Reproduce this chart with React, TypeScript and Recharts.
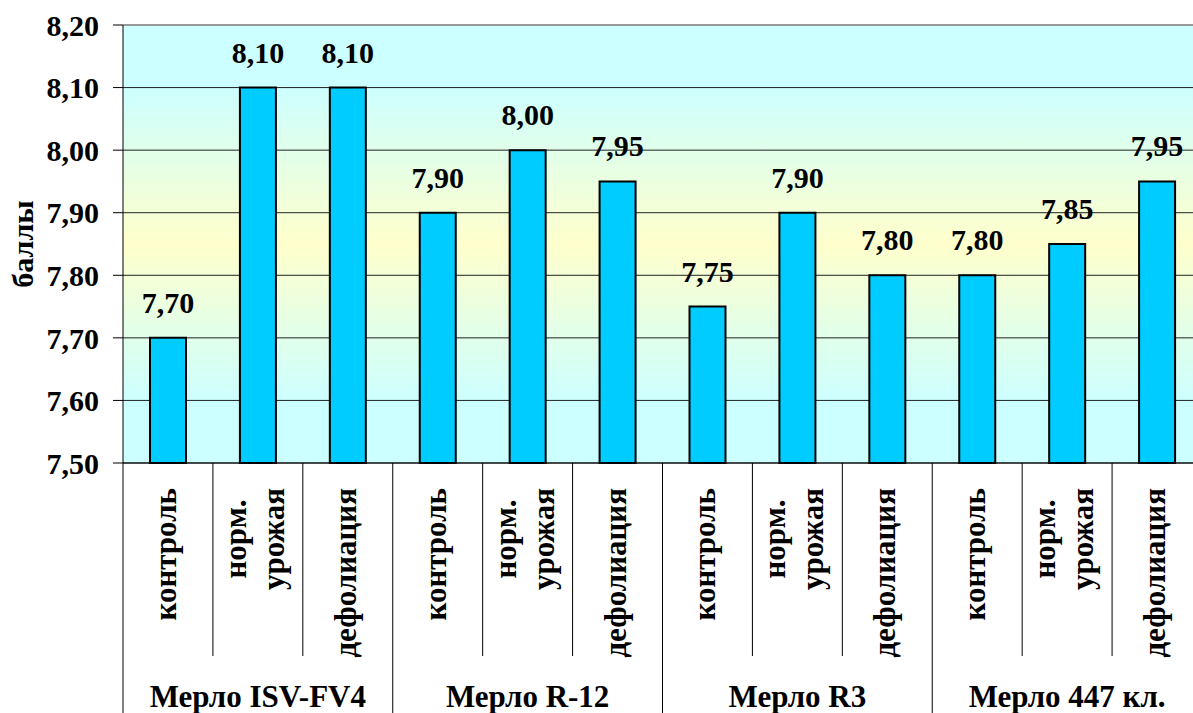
import { BarChart, Bar, XAxis, YAxis, CartesianGrid, ReferenceLine, LabelList, Label } from 'recharts';

// sorts and treatments, in drawing order
const varieties = ['Мерло ISV-FV4', 'Мерло R-12', 'Мерло R3', 'Мерло 447 кл.'];
const treatments = [['контроль'], ['норм.', 'урожая'], ['дефолиация']];
// tasting score for each sort x treatment pair
const scores = [7.70, 8.10, 8.10, 7.90, 8.00, 7.95, 7.75, 7.90, 7.80, 7.80, 7.85, 7.95];
const yTicks = [7.5, 7.6, 7.7, 7.8, 7.9, 8.0, 8.1, 8.2];

const data = scores.map((score, i) => ({
    key: `${varieties[Math.floor(i / treatments.length)]}|${i % treatments.length}`,
    group: varieties[Math.floor(i / treatments.length)],
    lines: treatments[i % treatments.length],
    score,
}));

const FONT = 'Liberation Serif, DejaVu Serif, Times New Roman, serif';
const BAR_COLOR = '#00CCFF';
const fmt = (v: number) => v.toFixed(2).replace('.', ',');

function CategoryTick(props: any) {
    const { x, y, payload, index } = props;
    const half = payload?.offset ?? 45;
    const item = data[index];
    const inGroup = index % treatments.length;
    return (
        <g fontFamily={FONT} fontSize={31} fontWeight={700} fill="#000">
            <line x1={x - half} x2={x - half} y1={y} y2={inGroup === 0 ? y + 260 : y + 193} stroke="#000" strokeWidth={1} />
            {index === data.length - 1 && (
                <line x1={x + half} x2={x + half} y1={y} y2={y + 260} stroke="#000" strokeWidth={1} />
            )}
            {item.lines.length === 1 ? (
                <text transform={`translate(${x + 8},${y + 25}) rotate(-90)`} textAnchor="end">
                    {item.lines[0]}
                </text>
            ) : (
                item.lines.map((line, k) => (
                    <text
                        key={k}
                        transform={`translate(${x + (k === 0 ? -12 : 26)},${y + 76}) rotate(-90)`}
                        textAnchor="middle"
                    >
                        {line}
                    </text>
                ))
            )}
            {inGroup === 1 && (
                <text x={x} y={y + 244} textAnchor="middle">
                    {item.group}
                </text>
            )}
        </g>
    );
}

function ValueLabel(props: any) {
    const { x, y, width, value } = props;
    return (
        <text x={x + width / 2} y={y - 25} textAnchor="middle"
            fontFamily={FONT} fontSize={30} fontWeight={700} fill="#000">
            {fmt(Number(value))}
        </text>
    );
}

function AxisTitle(props: any) {
    const { viewBox } = props;
    const cy = viewBox.y + viewBox.height / 2;
    return (
        <text transform={`translate(${viewBox.x + 33},${cy}) rotate(-90)`} textAnchor="middle"
            fontFamily={FONT} fontSize={30} fontWeight={700} fill="#000">
            баллы
        </text>
    );
}

export default function App() {
    return (
        <div style={{ position: 'fixed', left: 0, top: 0, width: 1193, height: 713, overflow: 'hidden', background: '#fff' }}>
            <BarChart width={1202} height={713} data={data} margin={{ top: 25, right: 0, left: 0, bottom: 0 }} barSize={36}>
                <defs>
                    <linearGradient id="plotBg" x1="0" y1="0" x2="0" y2="1">
                        <stop offset="0" stopColor="#CCFFFF" />
                        <stop offset="0.14" stopColor="#CCFFFF" />
                        <stop offset="0.5" stopColor="#FFFFCC" />
                        <stop offset="0.86" stopColor="#CCFFFF" />
                        <stop offset="1" stopColor="#CCFFFF" />
                    </linearGradient>
                </defs>
                <CartesianGrid vertical={false} stroke="#222" strokeWidth={1} fill="url(#plotBg)" fillOpacity={1} />
                <XAxis
                    dataKey="key"
                    height={250}
                    interval={0}
                    axisLine={false}
                    tickLine={false}
                    tickSize={0}
                    tickMargin={0}
                    tick={<CategoryTick />}
                />
                <YAxis
                    width={123}
                    domain={[7.5, 8.2]}
                    ticks={yTicks}
                    interval={0}
                    tickFormatter={fmt}
                    tickSize={10}
                    tickMargin={14}
                    axisLine={{ stroke: '#000', strokeWidth: 1 }}
                    tickLine={{ stroke: '#000', strokeWidth: 1 }}
                    tick={{ fill: '#000', fontSize: 30, fontWeight: 700, fontFamily: FONT }}
                >
                    <Label content={<AxisTitle />} />
                </YAxis>
                <ReferenceLine y={8.2} stroke="#999" strokeWidth={2} />
                <ReferenceLine y={7.5} stroke="#000" strokeWidth={1} />
                <Bar dataKey="score" fill={BAR_COLOR} stroke="#000" strokeWidth={2} isAnimationActive={false}>
                    <LabelList dataKey="score" content={<ValueLabel />} />
                </Bar>
            </BarChart>
        </div>
    );
}
